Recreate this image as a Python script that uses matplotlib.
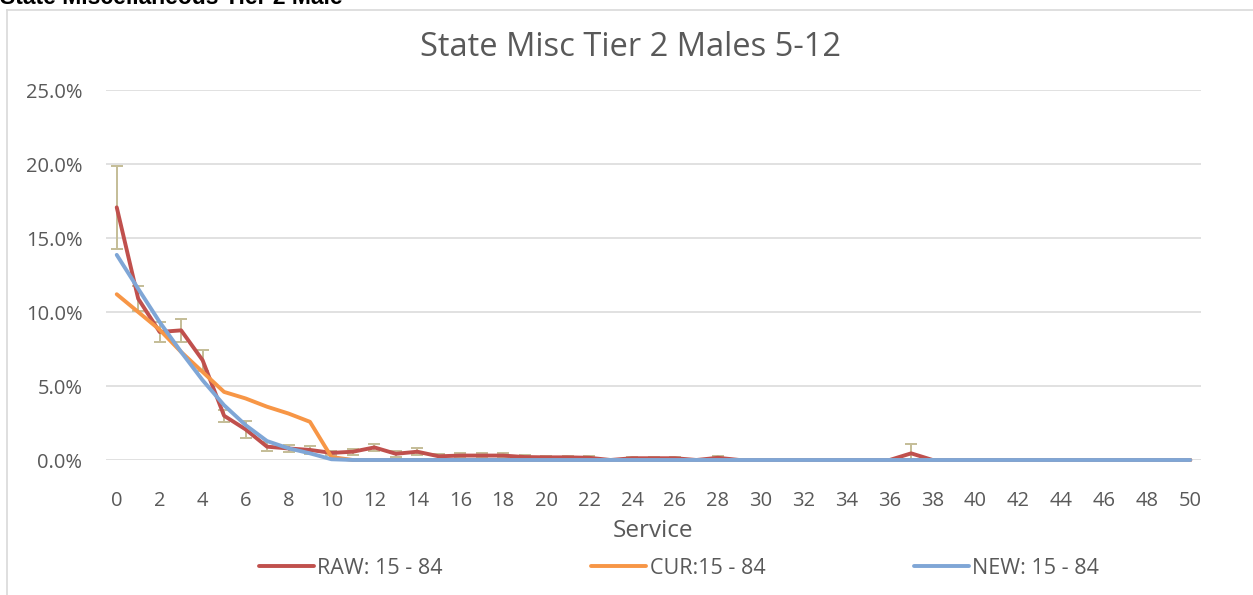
import matplotlib
matplotlib.use("Agg")
import matplotlib.pyplot as plt
from matplotlib.lines import Line2D
from matplotlib.ticker import FuncFormatter
import numpy as np

# Service years 0..50
service = list(range(51))

# Observed termination rates (%), with error half-widths (%)
raw_rate = [17.07, 10.9, 8.65, 8.76, 6.74, 2.99, 2.07, 0.9, 0.78, 0.68,
            0.48, 0.56, 0.85, 0.42, 0.56, 0.25, 0.3, 0.3, 0.3, 0.2,
            0.18, 0.18, 0.15, 0.0, 0.12, 0.12, 0.12, 0.0, 0.15, 0.0,
            0.0, 0.0, 0.0, 0.0, 0.0, 0.0, 0.0, 0.45, 0.0, 0.0,
            0.0, 0.0, 0.0, 0.0, 0.0, 0.0, 0.0, 0.0, 0.0, 0.0, 0.0]
raw_err = [2.8, 0.85, 0.65, 0.8, 0.72, 0.4, 0.55, 0.3, 0.25, 0.28,
           0.15, 0.2, 0.22, 0.2, 0.25, 0.15, 0.15, 0.15, 0.15, 0.12,
           0.12, 0.12, 0.1, 0.0, 0.1, 0.1, 0.1, 0.0, 0.12, 0.0,
           0.0, 0.0, 0.0, 0.0, 0.0, 0.0, 0.0, 0.6, 0.0, 0.0,
           0.0, 0.0, 0.0, 0.0, 0.0, 0.0, 0.0, 0.0, 0.0, 0.0, 0.0]

# Current assumption (%)
cur_rate = [11.2, 10.0, 8.8, 7.3, 5.95, 4.6, 4.16, 3.6, 3.14, 2.58,
            0.2] + [0.0] * 40

# Proposed assumption (%)
new_rate = [13.86, 11.57, 9.32, 7.3, 5.39, 3.7, 2.36, 1.28, 0.79, 0.45,
            0.05] + [0.0] * 40

series_labels = ["RAW: 15 - 84", "CUR:15 - 84", "NEW: 15 - 84"]
series_colors = ["#C0504D", "#F79646", "#7FA6D6"]
x_ticks = list(range(0, 51, 2))
y_ticks = [0, 5, 10, 15, 20, 25]

TEXT = "#595959"
GRID = "#D9D9D9"
ERR = "#C4BD97"

W, H = 1253, 595
fig = plt.figure(figsize=(W / 100, H / 100), dpi=100)
plt.rcParams["font.family"] = ["Open Sans", "DejaVu Sans"]

# chart-area frame (left and top edges visible)
fig.add_artist(Line2D([7 / W, 7 / W], [0, 1 - 10 / H], transform=fig.transFigure,
                      color=GRID, lw=1.2))
fig.add_artist(Line2D([7 / W, 1], [1 - 10 / H, 1 - 10 / H], transform=fig.transFigure,
                      color=GRID, lw=1.2))

# sheet heading above the chart, running off the top edge
fig.text(0.0, 1 - 3.5 / H, "State Miscellaneous Tier 2 Male", ha="left", va="baseline",
         fontsize=16.5, fontweight="bold", color="black", family="Liberation Sans")

ax = fig.add_axes([106 / W, 1 - 460 / H, (1201 - 106) / W, 370 / H])
ax.set_xlim(-0.5, 50.5)
ax.set_ylim(0, 25)

for s in ax.spines.values():
    s.set_visible(False)
ax.set_yticks(y_ticks)
ax.yaxis.grid(True, color=GRID, lw=1.1)
ax.set_axisbelow(True)
ax.yaxis.set_major_formatter(FuncFormatter(lambda v, p: f"{v:.1f}%"))
ax.set_xticks(x_ticks)
ax.tick_params(axis="both", length=0, colors=TEXT, labelsize=14.5)
ax.tick_params(axis="y", pad=17)
ax.tick_params(axis="x", pad=22)

x = np.array(service)
e = np.array(raw_err)
m = e > 0
ax.errorbar(x[m], np.array(raw_rate)[m], yerr=e[m], fmt="none", ecolor=ERR,
            elinewidth=1.4, capsize=4.3, capthick=1.4, zorder=2)

handles = []
for vals, col, lab in zip([raw_rate, cur_rate, new_rate], series_colors, series_labels):
    ln, = ax.plot(service, vals, color=col, lw=2.8, label=lab, clip_on=False,
                  solid_capstyle="round", solid_joinstyle="round", zorder=3)
    handles.append(ln)

ax.set_xlabel("Service", fontsize=17.5, color=TEXT, labelpad=6)

fig.text(630 / W, 1 - 47 / H, "State Misc Tier 2 Males 5-12", ha="center", va="center",
         fontsize=23.5, color=TEXT)

fig.legend(handles=handles, loc="center", bbox_to_anchor=(679 / W, 1 - 568 / H),
           ncol=3, frameon=False, fontsize=15.5, labelcolor=TEXT,
           handlelength=2.55, handletextpad=0.15, columnspacing=6.9)

fig.savefig("out.png", dpi=100)
